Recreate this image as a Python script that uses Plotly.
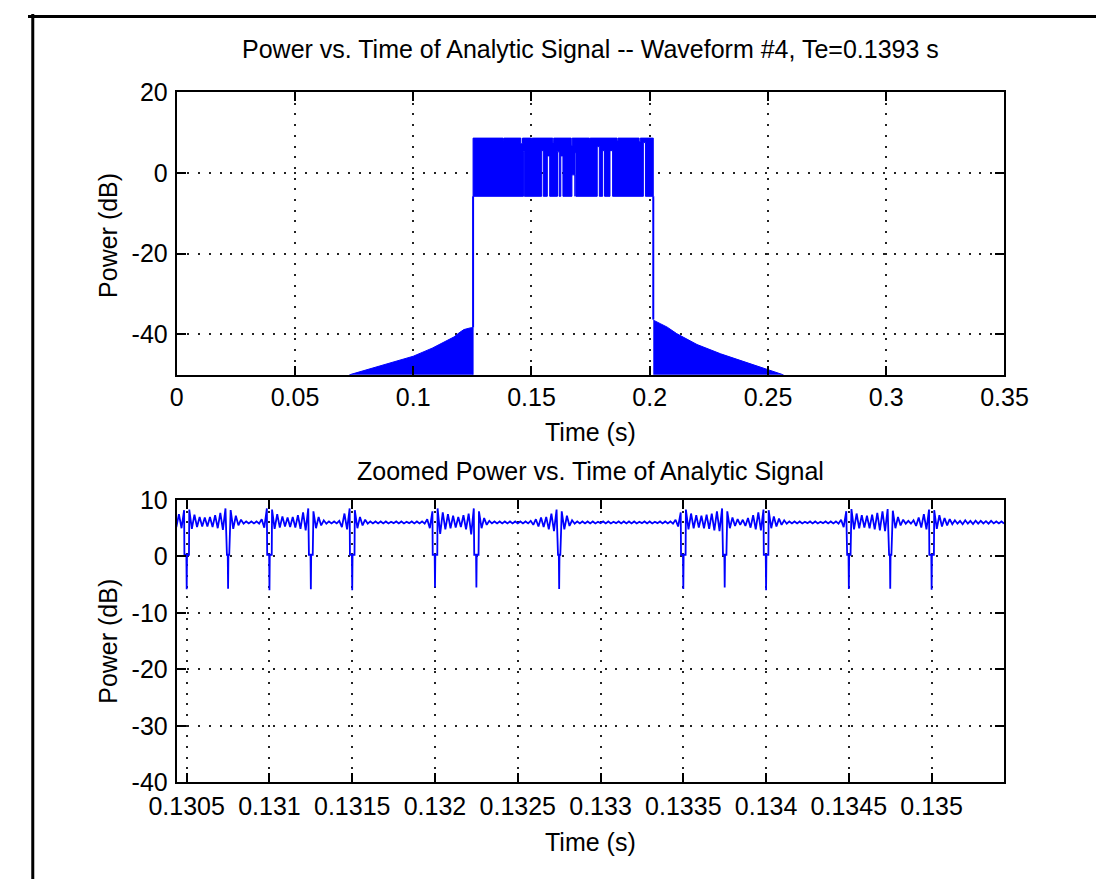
import plotly.graph_objects as go

W, H = 1120, 893
FONT = "Liberation Sans, Arial, sans-serif"
FS = 25
BLUE = "#0000ff"

# ---------------- top panel data ----------------
top_xticks = [0, 0.05, 0.1, 0.15, 0.2, 0.25, 0.3, 0.35]
top_xticklabels = ["0", "0.05", "0.1", "0.15", "0.2", "0.25", "0.3", "0.35"]
top_yticks = [-40, -20, 0, 20]
top_yticklabels = ["-40", "-20", "0", "20"]

# envelope of the leakage skirts either side of the pulse (dB)
left_skirt_t = [0.0730, 0.0800, 0.0900, 0.1000, 0.1080, 0.1146, 0.1173, 0.1194, 0.1214, 0.1240, 0.1253]
left_skirt_db = [-50.0, -48.8, -47.1, -45.4, -43.4, -41.3, -40.6, -39.6, -38.8, -38.4, -38.3]
right_skirt_t = [0.2015, 0.2020, 0.2047, 0.2074, 0.2114, 0.2200, 0.2300, 0.2400, 0.2500, 0.2565]
right_skirt_db = [-36.3, -36.6, -37.4, -38.2, -39.8, -42.5, -44.8, -46.8, -48.7, -50.0]
skirt_floor_db = -51.0

# main pulse: start/end time and lower/upper level of the dense oscillation
pulse_t = [0.1253, 0.2015]
pulse_db = [-5.8, 8.6]
# stretches where the oscillation did not reach the lower level
gap_t0 = [0.1466, 0.1543, 0.1567, 0.1610, 0.1624, 0.1671, 0.1684, 0.1778, 0.1801, 0.1832, 0.1973]
gap_t1 = [0.1470, 0.1550, 0.1577, 0.1617, 0.1633, 0.1684, 0.1688, 0.1787, 0.1809, 0.1843, 0.1982]
gap_top_db = [5.2, 5.5, 4.2, 5.2, 4.2, -0.5, 5.0, 6.5, 5.5, 5.5, 7.5]
# small dips of the upper level
dip_t0 = [0.1380, 0.1455, 0.1500, 0.1590, 0.1668, 0.1745, 0.1862, 0.1955]
dip_t1 = [0.1383, 0.1462, 0.1503, 0.1594, 0.1672, 0.1748, 0.1866, 0.1960]
dip_db = [7.9, 7.2, 7.9, 7.6, 6.8, 7.9, 7.9, 7.7]

# ---------------- bottom panel data ----------------
bot_xticks = [0.1305, 0.131, 0.1315, 0.132, 0.1325, 0.133, 0.1335, 0.134, 0.1345, 0.135]
bot_xticklabels = ["0.1305", "0.131", "0.1315", "0.132", "0.1325", "0.133", "0.1335", "0.134", "0.1345", "0.135"]
bot_yticks = [-40, -30, -20, -10, 0, 10]
bot_yticklabels = ["-40", "-30", "-20", "-10", "0", "10"]

sample_t0 = 0.1304375        # time of the first sample (s)
sample_dt = 0.000015625      # sample interval (s)
power_db = [
    5.2, 7.5, 5.0, 8.2, -5.8, 8.3, 4.9, 7.4, 5.2, 7.0, 5.3, 6.9, 5.3, 7.0, 5.2, 7.3,
    5.0, 7.7, 4.7, 8.5, -5.7, 8.2, 4.9, 7.2, 5.5, 6.5, 5.8, 6.2, 5.85, 6.2, 5.85, 6.2,
    5.8, 6.6, 5.1, 8.5, -6.0, 8.3, 4.9, 7.5, 5.1, 7.1, 5.3, 6.9, 5.2, 7.0, 5.1, 7.3,
    4.9, 7.8, 4.6, 8.5, -5.8, 8.0, 5.0, 7.0, 5.5, 6.4, 5.8, 6.2, 5.85, 6.2, 5.85, 6.3,
    5.2, 7.6, 4.8, 8.5, -6.0, 8.2, 5.0, 7.0, 5.5, 6.5, 5.8, 6.2, 5.85, 6.2, 5.85, 6.2,
    5.85, 6.2, 5.85, 6.15, 5.9, 6.2, 5.85, 6.2, 5.85, 6.15, 5.9, 6.2, 5.85, 6.2, 5.85, 6.2,
    5.8, 6.6, 5.0, 8.0, -5.5, 8.5, 4.0, 7.8, 4.8, 7.5, 5.0, 7.2, 5.1, 7.0, 5.2, 7.3,
    4.8, 7.6, 3.9, 8.5, -5.5, 8.0, 5.0, 6.8, 5.6, 6.3, 5.85, 6.2, 5.85, 6.2, 5.85, 6.2,
    5.85, 6.2, 5.85, 6.2, 5.85, 6.2, 5.85, 6.2, 5.85, 6.3, 5.6, 6.6, 5.3, 6.9, 5.2, 7.0,
    4.8, 7.6, 4.5, 8.3, -5.75, 8.0, 4.8, 7.2, 5.4, 6.4, 5.8, 6.2, 5.85, 6.2, 5.85, 6.2,
    5.85, 6.2, 5.85, 6.15, 5.9, 6.2, 5.85, 6.2, 5.85, 6.15, 5.9, 6.2, 5.85, 6.2, 5.85, 6.2,
    5.85, 6.2, 5.85, 6.15, 5.9, 6.2, 5.85, 6.2, 5.85, 6.15, 5.9, 6.2, 5.85, 6.2, 5.85, 6.2,
    5.8, 6.5, 5.3, 7.8, -5.75, 8.3, 4.8, 7.6, 5.0, 7.3, 5.1, 7.2, 5.0, 7.4, 4.9, 7.6,
    4.6, 8.0, 4.5, 8.5, -5.5, 8.0, 5.0, 6.9, 5.4, 6.6, 5.6, 6.5, 5.4, 6.8, 5.1, 7.3,
    4.8, 7.8, 4.6, 8.3, -6.0, 8.2, 5.0, 7.1, 5.3, 6.7, 5.6, 6.4, 5.8, 6.2, 5.85, 6.2,
    5.85, 6.2, 5.85, 6.15, 5.9, 6.2, 5.85, 6.2, 5.85, 6.15, 5.9, 6.2, 5.85, 6.2, 5.85, 6.2,
    5.8, 6.5, 5.2, 8.0, -5.75, 8.4, 4.8, 7.6, 5.0, 7.3, 5.1, 7.2, 5.0, 7.4, 4.8, 7.7,
    4.6, 8.0, 4.5, 8.4, -5.7, 8.1, 5.0, 7.0, 5.5, 6.5, 5.8, 6.3, 5.8, 6.4, 5.4, 6.9,
    5.1, 7.5, 4.8, 8.3, -5.9, 8.2, 4.9, 7.3, 5.3, 6.8, 5.5, 6.6, 5.7, 6.4, 5.8, 6.3,
    5.7, 6.4, 5.8, 6.3, 5.75, 6.35, 5.8, 6.3, 5.85, 6.25, 5.8, 6.3, 5.85, 6.2, 5.85, 6.2,
    5.85,
]
# phase-transition notches: time, half width (s) and the level of their shoulders
notch_t = [0.1305, 0.13075, 0.131, 0.13125, 0.1315, 0.132, 0.13225,
           0.13275, 0.1335, 0.13375, 0.134, 0.1345, 0.13475, 0.135]
notch_halfwidth = [13.8e-6, 7.0e-6, 13.8e-6, 11.5e-6, 13.8e-6, 13.8e-6, 13.0e-6,
                   7.0e-6, 13.8e-6, 10.4e-6, 13.8e-6, 10.4e-6, 7.0e-6, 13.8e-6]
notch_inner_halfwidth = 2.0e-6
notch_shoulder_db = 0.3

# ---------------- geometry from the data ----------------
ls_x = left_skirt_t + [left_skirt_t[-1], left_skirt_t[0]]
ls_y = left_skirt_db + [skirt_floor_db, skirt_floor_db]
rs_x = right_skirt_t + [right_skirt_t[-1], right_skirt_t[0]]
rs_y = right_skirt_db + [skirt_floor_db, skirt_floor_db]

p0, p1 = pulse_t
lo, hi = pulse_db
px = [p0, p0]
py = [lo, hi]
for a, b, d in zip(dip_t0, dip_t1, dip_db):
    px += [a, a, b, b]
    py += [hi, d, d, hi]
px += [p1, p1]
py += [hi, lo]
for a, b, g in reversed(list(zip(gap_t0, gap_t1, gap_top_db))):
    px += [b, b, a, a]
    py += [lo, g, g, lo]
px.append(p0)
py.append(lo)

edge_x = [p0, p0, None, p1, p1]
edge_y = [left_skirt_db[-1], lo, None, right_skirt_db[0], lo]

pts = [(sample_t0 + i * sample_dt, v) for i, v in enumerate(power_db)]
for tc, hw in zip(notch_t, notch_halfwidth):
    for off in (-hw, -notch_inner_halfwidth, notch_inner_halfwidth, hw):
        pts.append((tc + off, notch_shoulder_db))
pts.sort(key=lambda p: p[0])
zx = [p[0] for p in pts]
zy = [p[1] for p in pts]

fig = go.Figure()
for xs, ys in ((ls_x, ls_y), (rs_x, rs_y), (px, py)):
    fig.add_trace(go.Scatter(x=xs, y=ys, fill="toself", fillcolor=BLUE, mode="lines",
                             line=dict(color=BLUE, width=1), xaxis="x", yaxis="y",
                             hoverinfo="skip"))
fig.add_trace(go.Scatter(x=edge_x, y=edge_y, mode="lines",
                         line=dict(color=BLUE, width=2), xaxis="x", yaxis="y", hoverinfo="skip"))
fig.add_trace(go.Scatter(x=zx, y=zy, mode="lines",
                         line=dict(color=BLUE, width=1.8, simplify=False),
                         xaxis="x2", yaxis="y2"))

# ---------------- layout ----------------
def px2x(p):
    return p / W

def px2y(p):
    return 1 - p / H

xdom = [px2x(156), px2x(1024)]
top_dom = [px2y(372.5), px2y(80.6)]
bot_dom = [px2y(793.3), px2y(501.7)]

ax = dict(showline=True, linecolor="black", linewidth=2, mirror="ticks",
          ticks="inside", ticklen=9, tickwidth=2, tickcolor="black",
          showgrid=True, gridcolor="#222222", gridwidth=2, griddash="2px,8.7px",
          zeroline=False, tickfont=dict(family=FONT, size=FS, color="black"))

fig.update_layout(
    width=W, height=H, autosize=False,
    margin=dict(l=0, r=0, t=0, b=0, pad=0),
    paper_bgcolor="white", plot_bgcolor="white", showlegend=False,
    xaxis=dict(domain=xdom, range=[0, 0.35], anchor="y", tickvals=top_xticks,
               ticktext=top_xticklabels, ticklabelstandoff=-1, **ax),
    yaxis=dict(domain=top_dom, range=[-50, 20], anchor="x", tickvals=top_yticks,
               ticktext=top_yticklabels, ticklabelstandoff=2, **ax),
    xaxis2=dict(domain=xdom, range=[0.13044, 0.13544], anchor="y2", tickvals=bot_xticks,
                ticktext=bot_xticklabels, ticklabelstandoff=1, **ax),
    yaxis2=dict(domain=bot_dom, range=[-40, 10], anchor="x2", tickvals=bot_yticks,
                ticktext=bot_yticklabels, ticklabelstandoff=2, **ax),
)

tf = dict(family=FONT, size=FS, color="black")
cx = px2x(590)
ann = [
    dict(text="Power vs. Time of Analytic Signal -- Waveform #4, Te=0.1393 s", x=cx, y=px2y(36)),
    dict(text="Time (s)", x=cx, y=px2y(432)),
    dict(text="Zoomed Power vs. Time of Analytic Signal", x=cx, y=px2y(472)),
    dict(text="Time (s)", x=cx, y=px2y(855)),
]
for a in ann:
    fig.add_annotation(xref="paper", yref="paper", showarrow=False, xanchor="center",
                       yanchor="middle", font=tf, **a)
for yc in (229, 648):
    fig.add_annotation(text="Power (dB)", xref="paper", yref="paper", x=px2x(84), y=px2y(yc),
                       showarrow=False, textangle=-90, xanchor="center", yanchor="middle", font=tf)

# figure frame (left and top edges)
fig.add_shape(type="line", xref="paper", yref="paper", x0=px2x(5), x1=px2x(5), y0=0, y1=1,
              line=dict(color="black", width=3))
fig.add_shape(type="line", xref="paper", yref="paper", x0=0, x1=1, y0=px2y(2.5), y1=px2y(2.5),
              line=dict(color="black", width=3))

fig.write_html("out.html")
